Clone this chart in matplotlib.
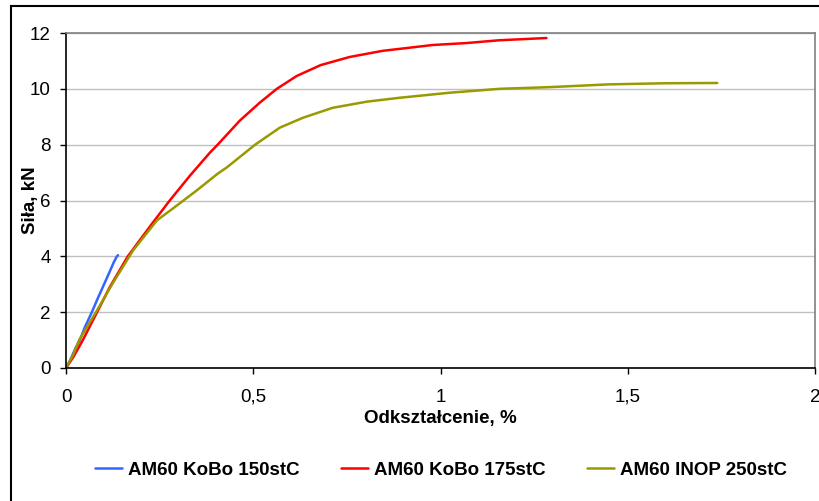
import matplotlib.pyplot as plt
from matplotlib.lines import Line2D

plt.rcParams["font.family"] = ["Liberation Sans", "DejaVu Sans"]

# ---------------- DATA ----------------
kobo150_x = [0, 0.012, 0.025, 0.037, 0.05, 0.069, 0.085, 0.1, 0.115, 0.128, 0.136, 0.139]
kobo150_y = [0, 0.3, 0.7, 1.0, 1.45, 2.0, 2.5, 2.95, 3.4, 3.8, 4.0, 4.04]

kobo175_x = [0, 0.02, 0.045, 0.083, 0.117, 0.165, 0.232, 0.277, 0.331, 0.384, 0.405,
             0.464, 0.517, 0.563, 0.616, 0.68, 0.757, 0.845, 0.979, 1.069, 1.157, 1.283]
kobo175_y = [0, 0.4, 1.0, 2.0, 2.9, 4.0, 5.21, 6.0, 6.89, 7.71, 8.0,
             8.86, 9.5, 10.0, 10.46, 10.85, 11.14, 11.36, 11.57, 11.64, 11.74, 11.82]

inop250_x = [0, 0.02, 0.035, 0.08, 0.125, 0.179, 0.243, 0.296, 0.349, 0.405, 0.429,
             0.505, 0.571, 0.632, 0.712, 0.803, 0.891, 1.024, 1.157, 1.29, 1.45, 1.6, 1.739]
inop250_y = [0, 0.5, 1.0, 2.0, 3.04, 4.21, 5.29, 5.82, 6.36, 6.96, 7.18,
             8.0, 8.61, 8.96, 9.32, 9.54, 9.68, 9.86, 10.0, 10.06, 10.16, 10.2, 10.21]

labels = ["AM60 KoBo 150stC", "AM60 KoBo 175stC", "AM60 INOP 250stC"]
colors = ["#3366FF", "#FF0000", "#999900"]

x_ticks = [0, 0.5, 1, 1.5, 2]
x_ticklabels = ["0", "0,5", "1", "1,5", "2"]
y_ticks = [0, 2, 4, 6, 8, 10, 12]

FS = 13.5

# ---------------- PLOT ----------------
fig = plt.figure(figsize=(8.19, 5.01), dpi=100)
ax = fig.add_axes([66 / 819, 1 - 368 / 501, (815 - 66) / 819, (368 - 33) / 501])

series = [(kobo150_x, kobo150_y), (kobo175_x, kobo175_y), (inop250_x, inop250_y)]
for (xs, ys), lab, col in zip(series, labels, colors):
    ax.plot(xs, ys, color=col, linewidth=1.8, label=lab,
            solid_joinstyle="round", solid_capstyle="round")

ax.set_xlim(0, 2)
ax.set_ylim(0, 12)
ax.set_xticks(x_ticks)
ax.set_xticklabels(x_ticklabels)
ax.set_yticks(y_ticks)

ax.grid(axis="y", color="#C0C0C0", linewidth=1)
ax.set_axisbelow(True)

ax.spines["left"].set_color("black")
ax.spines["bottom"].set_color("black")
ax.spines["top"].set_color("#808080")
ax.spines["right"].set_color("#808080")
for s in ax.spines.values():
    s.set_linewidth(1.2)

ax.tick_params(axis="y", direction="out", length=4, width=1, labelsize=FS, pad=7)
ax.tick_params(axis="x", direction="out", length=4, width=1, labelsize=FS, pad=11)

ax.set_xlabel("Odkształcenie, %", fontsize=FS, fontweight="bold")
ax.set_ylabel("Siła, kN", fontsize=FS, fontweight="bold")
ax.xaxis.set_label_coords(0.5, -0.125)
ax.yaxis.set_label_coords(-0.036, 0.5)

fig.legend(loc="center", bbox_to_anchor=(441 / 819, 1 - 470 / 501), ncol=3,
           frameon=False, prop={"size": FS, "weight": "bold"},
           handlelength=1.45, handletextpad=0.32, columnspacing=2.2)

# outer frame (top and left edges visible)
fig.add_artist(Line2D([11 / 819, 11 / 819], [0, 1 - 6 / 501], color="black", linewidth=1.5))
fig.add_artist(Line2D([11 / 819, 1], [1 - 6 / 501, 1 - 6 / 501], color="black", linewidth=1.5))

fig.savefig("out.png", dpi=100)
